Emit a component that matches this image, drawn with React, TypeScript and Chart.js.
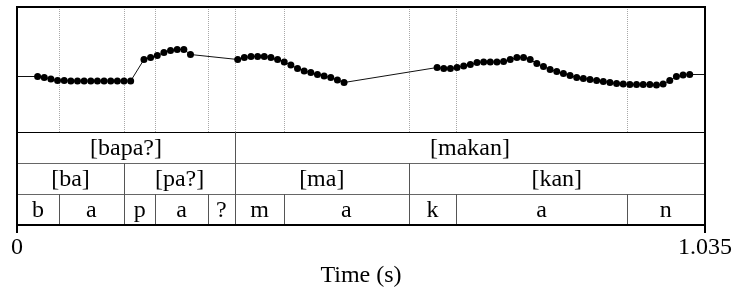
import React, { useEffect, useRef } from 'react';
import { Chart, registerables } from 'chart.js';

Chart.register(...registerables);

const DURATION = 1.035;

// Pitch track (Hz), four voiced stretches
const times1 = [0.031, 0.041, 0.051, 0.061, 0.071, 0.081, 0.091, 0.101, 0.111, 0.121, 0.131, 0.141, 0.151, 0.161, 0.171];
const pitch1 = [211, 209, 206, 203, 203, 202, 202, 202, 202, 202, 202, 202, 202, 202, 202];
const times2 = [0.191, 0.201, 0.211, 0.221, 0.231, 0.241, 0.251, 0.261];
const pitch2 = [245, 249, 253, 259, 263, 265, 265, 255];
const times3 = [0.332, 0.342, 0.352, 0.362, 0.372, 0.382, 0.392, 0.402, 0.412, 0.422, 0.432, 0.442, 0.452, 0.462, 0.472, 0.482, 0.492];
const pitch3 = [245, 249, 251, 251, 251, 249, 245, 240, 234, 227, 222, 219, 215, 212, 209, 204, 199];
const times4 = [0.632, 0.642, 0.652, 0.662, 0.672, 0.682, 0.692, 0.702, 0.712, 0.722, 0.732, 0.742, 0.752, 0.762, 0.772, 0.782, 0.792, 0.802, 0.812, 0.822, 0.832, 0.842, 0.852, 0.862, 0.872, 0.882, 0.892, 0.902, 0.912, 0.922, 0.932, 0.942, 0.952, 0.962, 0.972, 0.982, 0.992, 1.002, 1.012];
const pitch4 = [229, 227, 227, 229, 232, 235, 239, 240, 240, 240, 241, 245, 249, 249, 245, 237, 231, 225, 221, 217, 213, 209, 207, 205, 203, 201, 199, 197, 196, 195, 195, 195, 195, 194, 196, 203, 211, 214, 215];

const PITCH_MIN = 100;
const PITCH_MAX = 350;

// TextGrid tiers
const wordBounds = [0, 0.328, DURATION];
const wordLabels = ['[bapa?]', '[makan]'];
const syllBounds = [0, 0.161, 0.328, 0.589, DURATION];
const syllLabels = ['[ba]', '[pa?]', '[ma]', '[kan]'];
const segBounds = [0, 0.063, 0.161, 0.208, 0.287, 0.328, 0.402, 0.589, 0.661, 0.917, DURATION];
const segLabels = ['b', 'a', 'p', 'a', '?', 'm', 'a', 'k', 'a', 'n'];

const tickValues = [0, DURATION];
const tickLabels = ['0', '1.035'];
const axisTitle = 'Time (s)';

const FONT = '"Liberation Serif", "Times New Roman", serif';
const FONT_SIZE = 24;

const tiers = [
  { bounds: wordBounds, labels: wordLabels },
  { bounds: syllBounds, labels: syllLabels },
  { bounds: segBounds, labels: segLabels },
];

const tierPlugin = {
  id: 'tiers',
  beforeDatasetsDraw(chart: any) {
    const { ctx, chartArea, scales } = chart;
    const xs = scales.x;
    const pitchBottom = scales.y.getPixelForValue(PITCH_MIN);
    const all = new Set<number>();
    tiers.forEach((t) => t.bounds.forEach((b) => { if (b > 0 && b < DURATION) all.add(b); }));
    ctx.save();
    ctx.strokeStyle = '#a8a8a8';
    ctx.lineWidth = 1;
    ctx.setLineDash([1, 1]);
    all.forEach((b) => {
      const px = Math.round(xs.getPixelForValue(b)) + 0.5;
      ctx.beginPath();
      ctx.moveTo(px, chartArea.top);
      ctx.lineTo(px, pitchBottom);
      ctx.stroke();
    });
    ctx.restore();
  },
  afterDraw(chart: any) {
    const { ctx, chartArea, scales } = chart;
    const xs = scales.x;
    const pitchBottom = Math.round(scales.y.getPixelForValue(PITCH_MIN));
    const bottom = chartArea.bottom;
    const h = (bottom - pitchBottom) / tiers.length;
    ctx.save();
    ctx.font = `${FONT_SIZE}px ${FONT}`;
    ctx.textAlign = 'center';
    ctx.textBaseline = 'middle';
    tiers.forEach((tier, i) => {
      const top = pitchBottom + i * h;
      const bot = top + h;
      ctx.strokeStyle = i === 0 ? '#000' : '#666';
      ctx.lineWidth = 1;
      ctx.setLineDash([]);
      ctx.beginPath();
      ctx.moveTo(chartArea.left, Math.round(top) + 0.5);
      ctx.lineTo(chartArea.right, Math.round(top) + 0.5);
      ctx.stroke();
      ctx.strokeStyle = '#555';
      tier.bounds.forEach((b) => {
        if (b <= 0 || b >= DURATION) return;
        const px = Math.round(xs.getPixelForValue(b)) + 0.5;
        ctx.beginPath();
        ctx.moveTo(px, top);
        ctx.lineTo(px, bot);
        ctx.stroke();
      });
      ctx.fillStyle = '#000';
      tier.labels.forEach((lab, j) => {
        const cx = (xs.getPixelForValue(tier.bounds[j]) + xs.getPixelForValue(tier.bounds[j + 1])) / 2;
        ctx.fillText(lab, cx, (top + bot) / 2 + 1);
      });
    });
    ctx.strokeStyle = '#000';
    ctx.lineWidth = 2;
    ctx.strokeRect(chartArea.left, chartArea.top, chartArea.right - chartArea.left, chartArea.bottom - chartArea.top);
    ctx.restore();
  },
};

export default function App() {
  const ref = useRef<HTMLCanvasElement | null>(null);
  useEffect(() => {
    if (!ref.current) return;
    const pts: { x: number; y: number }[] = [];
    [
      [times1, pitch1],
      [times2, pitch2],
      [times3, pitch3],
      [times4, pitch4],
    ].forEach(([ts, ps]) => ts.forEach((t, i) => pts.push({ x: t, y: ps[i] })));
    const data = [{ x: 0, y: pitch1[0] }, ...pts, { x: DURATION, y: pitch4[pitch4.length - 1] }];
    const last = data.length - 1;
    const yMin = PITCH_MIN - (PITCH_MAX - PITCH_MIN) * (93 / 125);
    const chart = new Chart(ref.current, {
      type: 'line',
      data: {
        datasets: [
          {
            data,
            borderColor: '#111',
            borderWidth: 1,
            backgroundColor: '#000',
            pointBackgroundColor: '#000',
            pointBorderWidth: 0,
            pointRadius: (c: any) => (c.dataIndex === 0 || c.dataIndex === last ? 0 : 3.5),
            tension: 0,
          },
        ],
      },
      options: {
        animation: false,
        responsive: false,
        events: [],
        layout: { padding: { left: 17, right: 29, top: 7, bottom: 0 } },
        plugins: { legend: { display: false }, tooltip: { enabled: false } },
        scales: {
          x: {
            type: 'linear',
            min: 0,
            max: DURATION,
            position: 'bottom',
            afterBuildTicks: (s: any) => {
              s.ticks = tickValues.map((v) => ({ value: v }));
            },
            afterFit: (s: any) => {
              s.height = 70;
            },
            grid: { display: true, drawOnChartArea: false, drawTicks: true, tickLength: 8, color: '#000', lineWidth: 2 },
            border: { display: false },
            ticks: {
              autoSkip: false,
              maxRotation: 0,
              padding: 0,
              color: '#000',
              font: { family: FONT, size: FONT_SIZE },
              callback: (v: any) => tickLabels[tickValues.indexOf(Number(v))] ?? '',
            },
            title: {
              display: true,
              text: axisTitle,
              color: '#000',
              font: { family: FONT, size: FONT_SIZE },
              padding: { top: 0, bottom: 5 },
            },
          },
          y: { display: false, min: yMin, max: PITCH_MAX },
        },
      },
      plugins: [tierPlugin],
    });
    return () => chart.destroy();
  }, []);
  return (
    <div style={{ position: 'fixed', left: 0, top: 0, width: 734, height: 295, background: '#fff' }}>
      <canvas ref={ref} width={734} height={295} style={{ width: 734, height: 295 }} />
    </div>
  );
}
